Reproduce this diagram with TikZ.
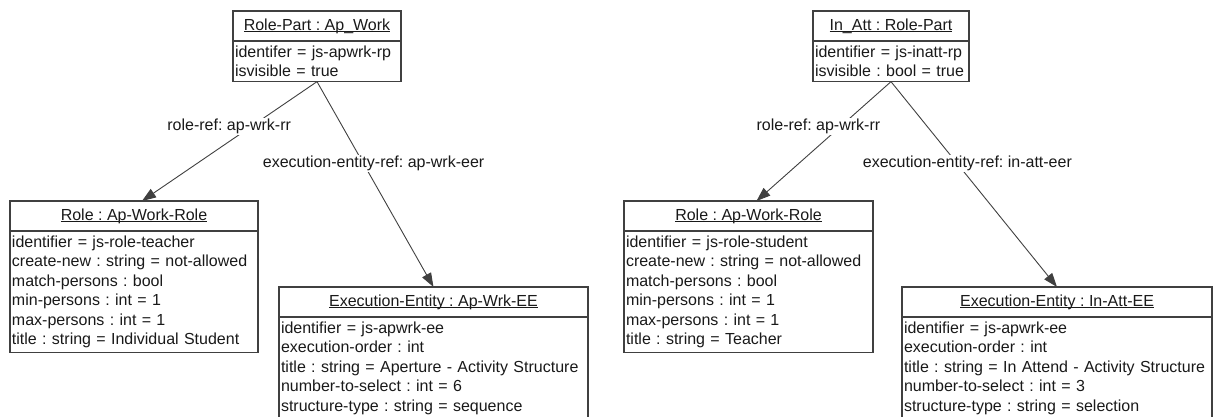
\documentclass[tikz,border=0pt]{standalone}
\usepackage{fontspec}
\setmainfont{Liberation Sans}
\usetikzlibrary{arrows.meta}
\frenchspacing
\newsavebox\objnamebox
\newcommand\objname[1]{\sbox\objnamebox{#1}\rlap{\rule[-2.2pt]{\wd\objnamebox}{1pt}}\usebox\objnamebox}
\tikzset{
  objhead/.style={draw=black!75, line width=1.3pt, outer sep=0pt, inner sep=0pt,
    minimum width=#1, minimum height=30pt, anchor=north west},
  objattr/.style={draw=black!75, line width=1.3pt, outer sep=0pt, inner xsep=2pt,
    inner ysep=4.7pt, text width=#1, align=left, anchor=north west},
  ref/.style={draw=black!75, line width=0.9pt, -{Triangle[length=14pt,width=10pt]}},
  lbl/.style={fill=white, inner sep=1pt}
}
\begin{document}
\begin{tikzpicture}[x=1pt, y=-1pt, font=\fontsize{16}{19.5}\selectfont, text=black!90]
  \useasboundingbox (0,0) rectangle (1213,417);
  \clip (0,0) rectangle (1213,417);
  % Ap_Work role part
  \node[objhead=168pt] (apwork) at (233,11) {\objname{Role-Part : Ap\_Work}};
  \node[objattr=164pt] (apwork-a) at (apwork.south west)
    {identifer = js-apwrk-rp\\ isvisible = true};
  \node[objhead=248pt] (teacher) at (10,201) {\objname{Role : Ap-Work-Role}};
  \node[objattr=244pt] (teacher-a) at (teacher.south west)
    {identifier = js-role-teacher\\ create-new : string = not-allowed\\
     match-persons : bool\\ min-persons : int = 1\\ max-persons : int = 1\\
     title : string = Individual Student};
  \node[objhead=309pt] (apwrkee) at (279,287) {\objname{Execution-Entity : Ap-Wrk-EE}};
  \node[objattr=305pt] (apwrkee-a) at (apwrkee.south west)
    {identifier = js-apwrk-ee\\ execution-order : int\\
     title : string = Aperture - Activity Structure\\ number-to-select : int = 6\\
     structure-type : string = sequence};
  % In_Att role part
  \node[objhead=156pt] (inatt) at (813,11) {\objname{In\_Att : Role-Part}};
  \node[objattr=152pt] (inatt-a) at (inatt.south west)
    {identifier = js-inatt-rp\\ isvisible : bool = true};
  \node[objhead=249pt] (student) at (624,201) {\objname{Role : Ap-Work-Role}};
  \node[objattr=245pt] (student-a) at (student.south west)
    {identifier = js-role-student\\ create-new : string = not-allowed\\
     match-persons : bool\\ min-persons : int = 1\\ max-persons : int = 1\\
     title : string = Teacher};
  \node[objhead=310pt] (inattee) at (902,287) {\objname{Execution-Entity : In-Att-EE}};
  \node[objattr=306pt] (inattee-a) at (inattee.south west)
    {identifier = js-apwrk-ee\\ execution-order : int\\
     title : string = In Attend - Activity Structure\\ number-to-select : int = 3\\
     structure-type : string = selection};
  \begin{scope}[ref]
    \draw (apwork-a.south) to node[lbl, pos=0.376, xshift=-22pt] {role-ref: ap-wrk-rr}
      ([xshift=8pt]teacher.north);
    \draw (apwork-a.south) to node[lbl, pos=0.4, xshift=10pt] {execution-entity-ref: ap-wrk-eer}
      (apwrkee.north);
    \draw (inatt-a.south) to node[lbl, pos=0.376, xshift=-22pt] {role-ref: ap-wrk-rr}
      ([xshift=8pt]student.north);
    \draw (inatt-a.south) to node[lbl, pos=0.4, xshift=10pt] {execution-entity-ref: in-att-eer}
      (inattee.north);
  \end{scope}
\end{tikzpicture}
\end{document}
